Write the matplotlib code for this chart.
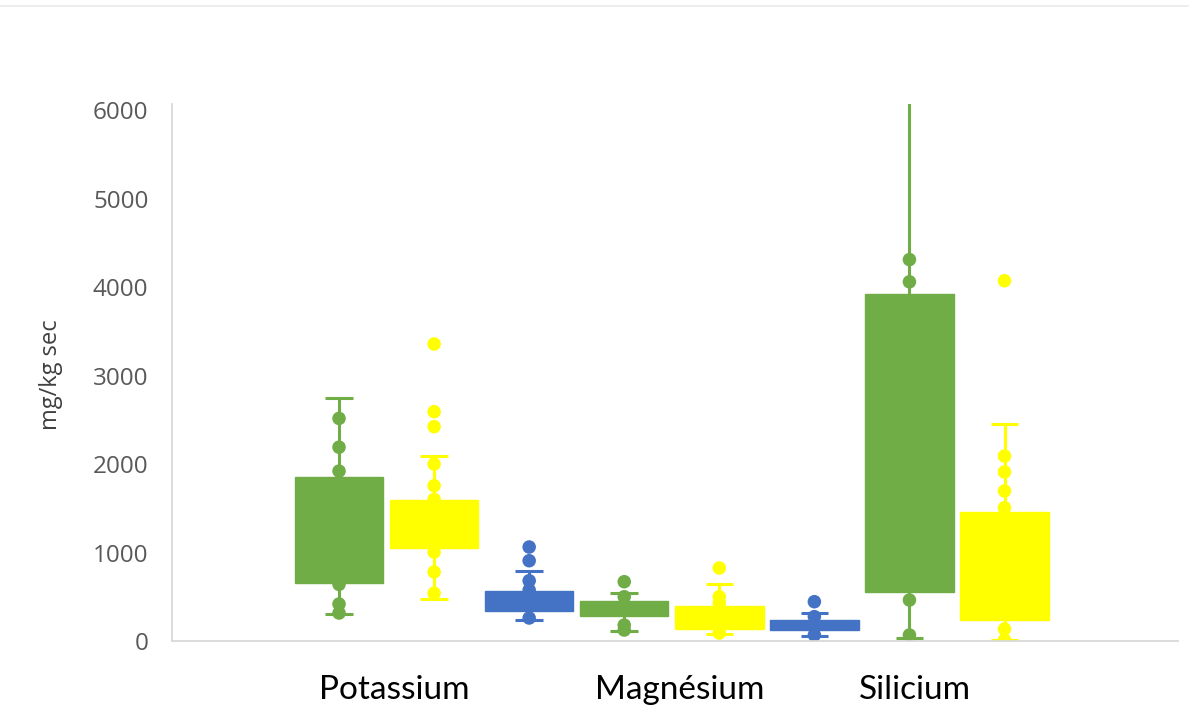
import matplotlib
matplotlib.use("Agg")
import matplotlib.pyplot as plt
from matplotlib.lines import Line2D

# box-and-whisker values (mg/kg sec)
slot_colors = ['#70AD47', '#FFFF00', '#4472C4',
               '#70AD47', '#FFFF00', '#4472C4',
               '#70AD47', '#FFFF00']
q1 = [655, 1050, 335, 282, 140, 124, 553, 237]
q3 = [1853, 1593, 560, 452, 400, 237, 3921, 1453]
whisk_lo = [300, 475, 240, 110, 79, 60, 30, 10]
whisk_hi = [2750, 2090, 794, 546, 644, 320, 6120, 2452]
points = [
    [2515, 2190, 1920, 640, 418, 316],
    [3356, 2591, 2422, 2000, 1755, 1600, 1005, 780, 540],
    [1062, 907, 681, 576, 260],
    [670, 500, 180, 124],
    [825, 500, 430, 90],
    [444, 275, 68],
    [4310, 4059, 463, 68],
    [4071, 2090, 1910, 1695, 1506, 136, 11],
]
categories = ['Potassium', 'Magnésium', 'Silicium']
yticks = [0, 1000, 2000, 3000, 4000, 5000, 6000]

W, H = 1189, 715
fig = plt.figure(figsize=(W / 100, H / 100), dpi=100)
ax = fig.add_axes([172 / W, 1 - 641 / H, (1178 - 172) / W, (641 - 104) / H])

box_w = 0.93
cap_w = 0.29
for i, c in enumerate(slot_colors):
    ax.vlines(i, whisk_lo[i], whisk_hi[i], color=c, lw=2.2, zorder=1)
    ax.hlines([whisk_lo[i], whisk_hi[i]], i - cap_w / 2, i + cap_w / 2,
              color=c, lw=2.2, zorder=1)
    ax.scatter([i] * len(points[i]), points[i], s=95, color=c,
               edgecolors='none', zorder=2)
    ax.bar(i, q3[i] - q1[i], bottom=q1[i], width=box_w, color=c,
           edgecolor=c, lw=1, zorder=3)

ax.set_xlim(-1.757, 8.825)
ax.set_ylim(0, 6068)
ax.set_yticks(yticks)
ax.set_yticklabels([str(v) for v in yticks], fontsize=17.5, color='#595959',
                   family='Open Sans')
ax.tick_params(axis='y', length=0, pad=17)
ax.set_xticks([])
for s in ['top', 'right']:
    ax.spines[s].set_visible(False)
for s in ['left', 'bottom']:
    ax.spines[s].set_color('#d9d9d9')
    ax.spines[s].set_linewidth(1.3)

fig.text(51 / W, 1 - 375 / H, 'mg/kg sec', rotation=90, fontsize=17,
         color='#404040', ha='center', va='center', family='Open Sans')

for name, px in zip(categories, [394, 680, 915]):
    fig.text(px / W, 1 - 690 / H, name, fontsize=24, color='black',
             ha='center', va='center', family='Lato')

fig.add_artist(Line2D([0, 1], [1 - 6 / H, 1 - 6 / H], color='#eeeeee', lw=1.5))

plt.savefig('out.png', dpi=100)
plt.close()
